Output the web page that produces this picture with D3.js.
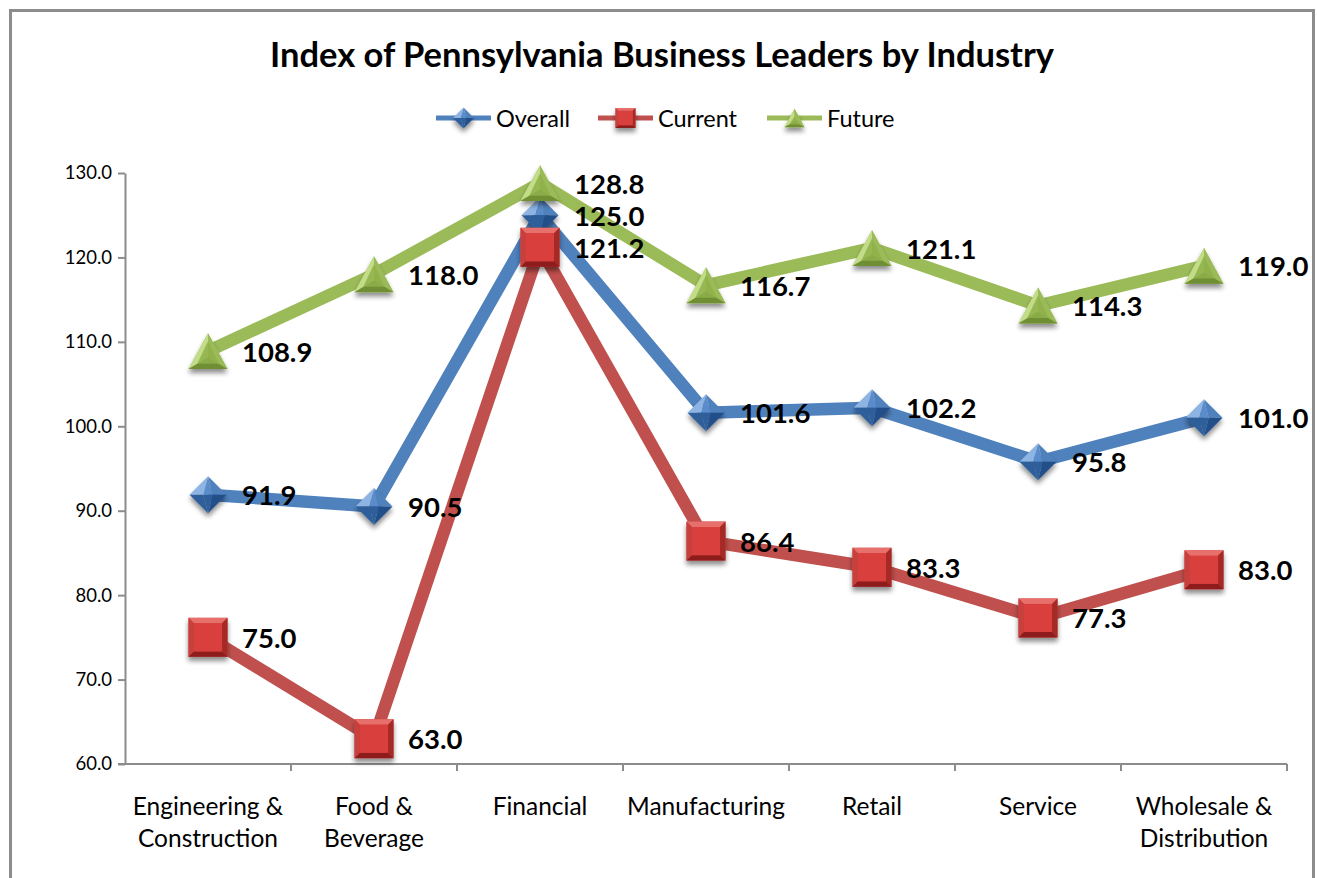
<!DOCTYPE html>
<html>
<head>
<meta charset="utf-8">
<script src="https://cdn.jsdelivr.net/npm/d3@7"></script>
<style>
  html, body { margin: 0; padding: 0; background: #fff; }
  svg { display: block; }
  text { font-family: Lato, "Open Sans", sans-serif; }
</style>
</head>
<body>
<div id="chart"></div>
<script>
// Industry index data
const categories = [
  ["Engineering &", "Construction"],
  ["Food &", "Beverage"],
  ["Financial"],
  ["Manufacturing"],
  ["Retail"],
  ["Service"],
  ["Wholesale &", "Distribution"]
];
const overall = [91.9, 90.5, 125.0, 101.6, 102.2, 95.8, 101.0];
const current = [75.0, 63.0, 121.2, 86.4, 83.3, 77.3, 83.0];
const future  = [108.9, 118.0, 128.8, 116.7, 121.1, 114.3, 119.0];
const yTicks  = [60, 70, 80, 90, 100, 110, 120, 130];
const seriesNames = ["Overall", "Current", "Future"];

const W = 1317, H = 878;
const plot = { left: 125, right: 1287, top: 173, bottom: 764 };

const svg = d3.select("#chart").append("svg")
  .attr("width", W).attr("height", H);

const defs = svg.append("defs");
const shadow = defs.append("filter").attr("id", "shadow")
  .attr("x", "-50%").attr("y", "-50%").attr("width", "200%").attr("height", "200%");
shadow.append("feGaussianBlur").attr("in", "SourceAlpha").attr("stdDeviation", 2.5);
shadow.append("feOffset").attr("dx", 0).attr("dy", 4).attr("result", "off");
shadow.append("feComponentTransfer").append("feFuncA").attr("type", "linear").attr("slope", 0.45);
const mg = shadow.append("feMerge");
mg.append("feMergeNode");
mg.append("feMergeNode").attr("in", "SourceGraphic");

// Chart frame
svg.append("rect")
  .attr("x", 10.5).attr("y", 10.5)
  .attr("width", 1303).attr("height", 900)
  .attr("fill", "#fff").attr("stroke", "#8c8c8c").attr("stroke-width", 3);

// Title
svg.append("text")
  .attr("x", 662).attr("y", 67)
  .attr("text-anchor", "middle")
  .attr("font-size", 34.5).attr("font-weight", 700)
  .attr("fill", "#000")
  .text("Index of Pennsylvania Business Leaders by Industry");

const x = d3.scaleBand()
  .domain(d3.range(categories.length))
  .range([plot.left, plot.right]);
const y = d3.scaleLinear().domain([60, 130]).range([plot.bottom, plot.top]);

// Y axis
const yAxis = d3.axisLeft(y).tickValues(yTicks)
  .tickFormat(d3.format(".1f")).tickSize(7).tickSizeOuter(0).tickPadding(6);
const yg = svg.append("g").attr("transform", `translate(${plot.left},0)`).call(yAxis);
yg.select(".domain").attr("stroke", "#8c8c8c").attr("stroke-width", 2);
yg.selectAll(".tick line").attr("stroke", "#8c8c8c").attr("stroke-width", 2);
yg.selectAll(".tick text").attr("font-size", 18.5).attr("fill", "#000")
  .attr("font-family", "Lato, 'Open Sans', sans-serif");

// X axis with ticks between categories
const xg = svg.append("g").attr("transform", `translate(0,${plot.bottom})`);
xg.append("line")
  .attr("x1", plot.left - 7).attr("x2", plot.right)
  .attr("stroke", "#8c8c8c").attr("stroke-width", 2);
xg.selectAll("line.tk").data(d3.range(categories.length))
  .join("line").attr("class", "tk")
  .attr("x1", i => x(i) + x.bandwidth()).attr("x2", i => x(i) + x.bandwidth())
  .attr("y1", 0).attr("y2", 7)
  .attr("stroke", "#8c8c8c").attr("stroke-width", 2);
xg.selectAll("text.cat").data(categories).join("text").attr("class", "cat")
  .attr("text-anchor", "middle").attr("font-size", 24.5).attr("fill", "#000")
  .each(function (lines, i) {
    const t = d3.select(this);
    lines.forEach((l, k) => {
      t.append("tspan").attr("x", x(i) + x.bandwidth() / 2)
        .attr("y", 51 + k * 32).text(l);
    });
  });

const cx = i => x(i) + x.bandwidth() / 2;

const styles = [
  { data: overall, line: "#4f81bd", shape: "diamond",
    c: { light: "#8db4e2", mid: "#4f81bd", dark: "#2f5f9a", deep: "#24508a", face: "#5a8ccb" } },
  { data: current, line: "#c0504d", shape: "square",
    c: { light: "#e8706c", mid: "#c8403d", dark: "#a52a28", deep: "#8e1f1d", face: "#d9403e" } },
  { data: future, line: "#9bbb59", shape: "triangle",
    c: { light: "#c2dc88", mid: "#9bbb59", dark: "#6f8f34", deep: "#5d7b2a", face: "#8fb04a" } }
];

// Draw a bevelled marker centred at (px, py) with half-size r
function marker(g, shape, c, px, py, r) {
  const m = g.append("g").attr("transform", `translate(${px},${py})`)
    .attr("filter", "url(#shadow)");
  if (shape === "square") {
    const s = r, k = r * 0.72;
    m.append("rect").attr("x", -s).attr("y", -s).attr("width", 2 * s).attr("height", 2 * s)
      .attr("fill", c.mid);
    m.append("path").attr("d", `M${-s},${-s}L${s},${-s}L${k},${-k}L${-k},${-k}Z`).attr("fill", c.light);
    m.append("path").attr("d", `M${-s},${-s}L${-k},${-k}L${-k},${k}L${-s},${s}Z`).attr("fill", c.mid);
    m.append("path").attr("d", `M${s},${-s}L${s},${s}L${k},${k}L${k},${-k}Z`).attr("fill", c.dark);
    m.append("path").attr("d", `M${-s},${s}L${s},${s}L${k},${k}L${-k},${k}Z`).attr("fill", c.deep);
    m.append("rect").attr("x", -k).attr("y", -k).attr("width", 2 * k).attr("height", 2 * k)
      .attr("fill", c.face);
  } else if (shape === "diamond") {
    const s = r, k = r * 0.25;
    m.append("path").attr("d", `M0,${-s}L${-s},0L${-k},0Z`).attr("fill", c.light);
    m.append("path").attr("d", `M0,${-s}L${s},0L${k},0Z`).attr("fill", c.mid);
    m.append("path").attr("d", `M0,${-s}L${-k},0L${k},0Z`).attr("fill", c.face);
    m.append("path").attr("d", `M${-s},0L0,${s}L${-k},0Z`).attr("fill", c.dark);
    m.append("path").attr("d", `M${s},0L0,${s}L${k},0Z`).attr("fill", c.deep);
    m.append("path").attr("d", `M${-k},0L${k},0L0,${s}Z`).attr("fill", c.dark);
  } else {
    const s = r, h = r * 0.92;
    const top = [0, -h], bl = [-s, h], br = [s, h];
    const ctr = [0, h * 0.35];
    m.append("path").attr("d", `M${top}L${bl}L${br}Z`).attr("fill", c.mid);
    m.append("path").attr("d", `M${top}L${bl}L${ctr}Z`).attr("fill", c.light);
    m.append("path").attr("d", `M${top}L${br}L${ctr}Z`).attr("fill", c.mid);
    m.append("path").attr("d", `M${bl}L${br}L${ctr}Z`).attr("fill", c.dark);
    m.append("path").attr("d", `M${top[0]},${top[1] + 8}L${-s * 0.55},${h * 0.7}L${s * 0.55},${h * 0.7}Z`)
      .attr("fill", c.face).attr("opacity", 0.85);
  }
}

const line = d3.line().x((d, i) => cx(i)).y(d => y(d));

// Lines
styles.forEach(s => {
  svg.append("path").datum(s.data)
    .attr("d", line).attr("fill", "none")
    .attr("stroke", s.line).attr("stroke-width", 12.5)
    .attr("stroke-linejoin", "round");
});

// Markers
styles.forEach(s => {
  const g = svg.append("g");
  s.data.forEach((v, i) => marker(g, s.shape, s.c, cx(i), y(v), s.shape === "diamond" ? 18.5 : 19.5));
});

// Value labels
styles.forEach(s => {
  svg.append("g").selectAll("text").data(s.data).join("text")
    .attr("x", (d, i) => cx(i) + 34)
    .attr("y", d => y(d) + 10.5)
    .attr("font-size", 27.5).attr("font-weight", 700).attr("fill", "#000")
    .text(d => d3.format(".1f")(d));
});

// Legend
const legendX = [436, 598, 767];
const lg = svg.append("g");
styles.forEach((s, i) => {
  const g = lg.append("g").attr("transform", `translate(${legendX[i]},118)`);
  g.append("line").attr("x1", 0).attr("x2", 55)
    .attr("stroke", s.line).attr("stroke-width", 5);
  marker(g, s.shape, s.c, 27.5, 0, s.shape === "diamond" ? 10.5 : 10);
  g.append("text").attr("x", 60).attr("y", 8.5)
    .attr("font-size", 23.5).attr("fill", "#000").text(seriesNames[i]);
});
</script>
</body>
</html>
